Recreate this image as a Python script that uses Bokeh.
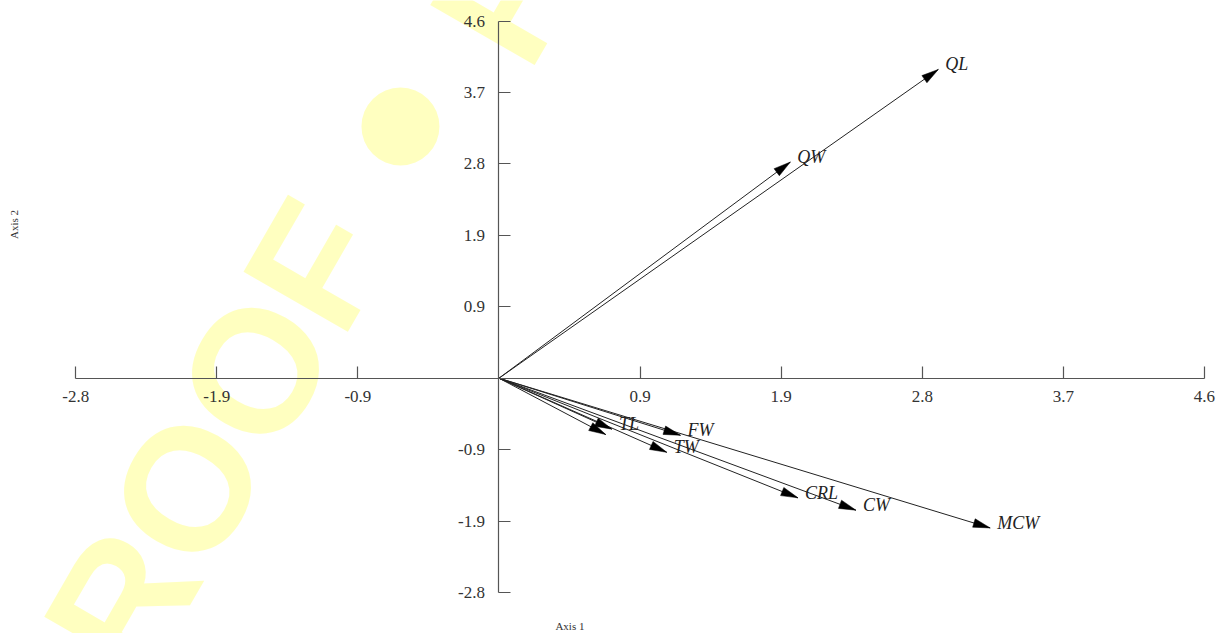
import math
from bokeh.plotting import figure
from bokeh.models import ColumnDataSource, Range1d, FixedTicker, Label
from bokeh.core.properties import value
from bokeh.embed import file_html
from bokeh.resources import INLINE

# ---- data (biplot loadings) ----
variables = ["QL", "QW", "MCW", "CW", "CRL", "FW", "TW", "TL", "T"]
axis1 = [2.88, 1.91, 3.22, 2.34, 1.96, 1.19, 1.10, 0.74, 0.70]
axis2 = [4.00, 2.80, -1.94, -1.71, -1.55, -0.74, -0.96, -0.66, -0.73]
show_label = [True, True, True, True, True, True, True, True, False]

# ---- ticks ----
x_ticks = [-2.775, -1.85, -0.925, 0.925, 1.85, 2.775, 3.7, 4.625]
x_tick_labels = ["-2.8", "-1.9", "-0.9", "0.9", "1.9", "2.8", "3.7", "4.6"]
y_ticks = [-2.775, -1.85, -0.925, 0.925, 1.85, 2.775, 3.7, 4.625]
y_tick_labels = ["-2.8", "-1.9", "-0.9", "0.9", "1.9", "2.8", "3.7", "4.6"]

W, H = 1219, 633
X0, X1 = -3.268, 4.7234
Y0, Y1 = -3.3074, 4.893

p = figure(width=W, height=H, x_range=Range1d(X0, X1), y_range=Range1d(Y0, Y1),
           output_backend="svg", toolbar_location=None, min_border=0)
p.outline_line_color = None
p.grid.visible = False
p.background_fill_color = "white"
p.border_fill_color = "white"

# watermark
wm_col = "#FFFFC0"
p.text(x=[-2.042], y=[-1.429], text=["PROOF"], angle=math.radians(60),
       text_font=value("Liberation Sans"), text_font_style="bold",
       text_font_size="175px", text_color=wm_col, text_align="center",
       text_baseline="middle")
p.scatter(x=[-0.646], y=[3.261], size=78, marker="circle", fill_color=wm_col,
          line_color=None)
p.text(x=[0.043], y=[4.971], text=["P"], angle=math.radians(60),
       text_font=value("Liberation Sans"), text_font_style="bold",
       text_font_size="175px", text_color=wm_col, text_align="center",
       text_baseline="middle")

# axes through origin
for ax, ticks, labels in ((p.xaxis[0], x_ticks, x_tick_labels), (p.yaxis[0], y_ticks, y_tick_labels)):
    ax.fixed_location = 0
    ax.ticker = FixedTicker(ticks=ticks)
    ax.major_label_overrides = {t: l for t, l in zip(ticks, labels)}
    ax.bounds = (ticks[0], ticks[-1])
    ax.minor_tick_line_color = None
    ax.major_tick_in = 12
    ax.major_tick_out = 0
    ax.axis_line_color = "#555555"
    ax.axis_line_width = 1.2
    ax.major_tick_line_color = "#555555"
    ax.major_tick_line_width = 1.2
    ax.major_label_text_font = "Liberation Serif"
    ax.major_label_text_font_size = "17px"
    ax.major_label_text_color = "#333333"
p.xaxis.major_label_standoff = 13
p.yaxis.major_label_standoff = 14

# arrows
sx = W / (X1 - X0)
sy = H / (Y1 - Y0)
L, HW = 17.0, 4.4
hx, hy = [], []
for x, y in zip(axis1, axis2):
    px, py = x * sx, y * sy
    n = math.hypot(px, py)
    dx, dy = px / n, py / n
    cx, cy = px - L * dx, py - L * dy
    hx.append([px / sx, (cx - HW * dy) / sx, (cx + HW * dy) / sx])
    hy.append([py / sy, (cy + HW * dx) / sy, (cy - HW * dx) / sy])

src = ColumnDataSource(dict(x0=[0.0] * len(axis1), y0=[0.0] * len(axis1), x1=axis1, y1=axis2))
p.segment(x0="x0", y0="y0", x1="x1", y1="y1", source=src, line_color="#222222", line_width=1)
p.patches(xs=hx, ys=hy, fill_color="black", line_color="black", line_width=0.5)

lab = ColumnDataSource(dict(
    x=[a for a, s in zip(axis1, show_label) if s],
    y=[b for b, s in zip(axis2, show_label) if s],
    t=[v for v, s in zip(variables, show_label) if s]))
p.text(x="x", y="y", text="t", source=lab, x_offset=7, y_offset=-5,
       text_font=value("Liberation Serif"), text_font_style="italic",
       text_font_size="18px", text_color="#222222", text_align="left",
       text_baseline="middle")

# axis titles
p.add_layout(Label(x=0.465, y=-3.207, text="Axis 1", text_font="Liberation Serif",
                   text_font_size="11px", text_color="#333333",
                   text_align="center", text_baseline="middle"))
p.add_layout(Label(x=-3.180, y=1.991, text="Axis 2", text_font="Liberation Serif",
                   text_font_size="11px", text_color="#333333", angle=math.pi / 2,
                   text_align="center", text_baseline="middle"))

open("out.html", "w").write(file_html(p, INLINE))
